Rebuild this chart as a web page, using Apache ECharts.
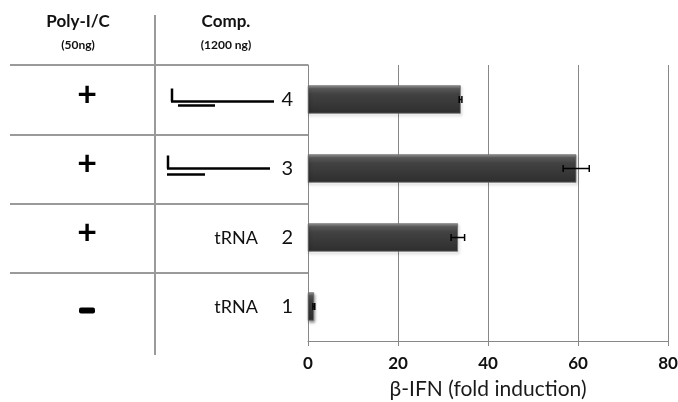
<!DOCTYPE html>
<html>
<head>
<meta charset="utf-8">
<title>beta-IFN</title>
<script src="https://cdn.jsdelivr.net/npm/echarts@6/dist/echarts.min.js"></script>
<style>
  html, body { margin: 0; padding: 0; background: #fff; }
  #main { width: 678px; height: 402px; }
</style>
</head>
<body>
<div id="main"></div>
<script>
// rows, bottom to top
var rows     = ['1', '2', '3', '4'];
var polyIC   = ['-', '+', '+', '+'];
var comp     = ['tRNA', 'tRNA', '', ''];
var foldInd  = [1.3, 33.3, 59.6, 33.9];
var foldErr  = [0.2, 1.5, 2.9, 0.3];
var xTicks   = [0, 20, 40, 60, 80];

var FONT = 'Lato, "Open Sans", sans-serif';
var myChart = echarts.init(document.getElementById('main'));

var barColor = new echarts.graphic.LinearGradient(0, 0, 0, 1, [
    { offset: 0, color: '#a0a0a0' },
    { offset: 0.12, color: '#5a5a5a' },
    { offset: 0.3, color: '#424242' },
    { offset: 1, color: '#2e2e2e' }
]);

var option = {
    animation: false,
    grid: { left: 308, right: 10, top: 65, bottom: 61, containLabel: false, outerBoundsMode: 'none' },
    xAxis: {
        type: 'value',
        min: xTicks[0],
        max: xTicks[xTicks.length - 1],
        interval: 20,
        axisLine: { show: true, lineStyle: { color: '#888', width: 1 } },
        axisTick: { show: true, length: 5, lineStyle: { color: '#888' } },
        splitLine: { show: true, lineStyle: { color: '#888', width: 1 } },
        axisLabel: { fontFamily: FONT, fontWeight: 'bold', fontSize: 17, color: '#111', margin: 14 },
        name: 'β-IFN (fold induction)',
        nameLocation: 'middle',
        nameGap: 38,
        nameTextStyle: { fontFamily: FONT, fontSize: 21, color: '#1a1a1a' }
    },
    yAxis: {
        type: 'category',
        data: rows,
        axisLine: { show: true, lineStyle: { color: '#888', width: 1 } },
        axisTick: { show: false },
        axisLabel: { fontFamily: FONT, fontSize: 20, color: '#111', margin: 15 }
    },
    series: [
        {
            type: 'bar',
            data: foldInd,
            barWidth: 28,
            itemStyle: {
                color: barColor,
                borderColor: '#6a6a6a',
                borderWidth: 0.5,
                shadowBlur: 3,
                shadowColor: 'rgba(0,0,0,0.45)',
                shadowOffsetY: 2,
                shadowOffsetX: 1
            }
        },
        {
            type: 'custom',
            data: foldInd.map(function (v, i) { return [i, v - foldErr[i], v + foldErr[i]]; }),
            renderItem: function (params, api) {
                var i = api.value(0);
                var lo = api.coord([api.value(1), i]);
                var hi = api.coord([api.value(2), i]);
                var h = 3.5;
                var st = { stroke: '#000', lineWidth: 1.5 };
                return {
                    type: 'group',
                    children: [
                        { type: 'line', shape: { x1: lo[0], y1: lo[1], x2: hi[0], y2: hi[1] }, style: st },
                        { type: 'line', shape: { x1: lo[0], y1: lo[1] - h, x2: lo[0], y2: lo[1] + h }, style: st },
                        { type: 'line', shape: { x1: hi[0], y1: hi[1] - h, x2: hi[0], y2: hi[1] + h }, style: st }
                    ]
                };
            },
            z: 5
        }
    ]
};
myChart.setOption(option);

// table on the left, placed on the category rows
var rowY = rows.map(function (r, i) { return myChart.convertToPixel({ yAxisIndex: 0 }, i); });
var band = rowY[0] - rowY[1];
var gray = { stroke: '#9a9a9a', lineWidth: 2 };
var g = [];

g.push({ type: 'text', x: 78, y: 22, style: { text: 'Poly-I/C', font: 'bold 17px ' + FONT, fill: '#111', align: 'center', verticalAlign: 'middle' } });
g.push({ type: 'text', x: 78, y: 45, style: { text: '(50ng)', font: 'bold 12px ' + FONT, fill: '#111', align: 'center', verticalAlign: 'middle' } });
g.push({ type: 'text', x: 226, y: 22, style: { text: 'Comp.', font: 'bold 17px ' + FONT, fill: '#111', align: 'center', verticalAlign: 'middle' } });
g.push({ type: 'text', x: 226, y: 45, style: { text: '(1200 ng)', font: 'bold 12px ' + FONT, fill: '#111', align: 'center', verticalAlign: 'middle' } });

g.push({ type: 'line', shape: { x1: 155, y1: 15, x2: 155, y2: 355 }, style: gray });
g.push({ type: 'line', shape: { x1: 10, y1: 65, x2: 308, y2: 65 }, style: gray });
for (var i = 0; i < rows.length - 1; i++) {
    var yb = Math.round(rowY[i] - band / 2) + 1;
    g.push({ type: 'line', shape: { x1: 10, y1: yb, x2: 308, y2: yb }, style: gray });
}

rows.forEach(function (r, i) {
    var y = rowY[i];
    if (polyIC[i] === '+') {
        g.push({ type: 'text', x: 87, y: y - 4, style: { text: '+', font: 'bold 34px ' + FONT, fill: '#000', align: 'center', verticalAlign: 'middle' } });
    } else {
        g.push({ type: 'rect', shape: { x: 79, y: y + 1, width: 16, height: 6, r: 2 }, style: { fill: '#000' } });
    }
    if (comp[i]) {
        g.push({ type: 'text', x: 258, y: y + 1, style: { text: comp[i], font: '18px ' + FONT, fill: '#111', align: 'right', verticalAlign: 'middle' } });
    }
});

// oligo diagrams for rows 3 and 4
var blk = { stroke: '#000', lineWidth: 2.5 };
var y4 = rowY[3], y3 = rowY[2];
g.push({ type: 'line', shape: { x1: 172, y1: y4 - 11, x2: 172, y2: y4 + 2 }, style: blk });
g.push({ type: 'line', shape: { x1: 171, y1: y4 + 2, x2: 274, y2: y4 + 2 }, style: blk });
g.push({ type: 'line', shape: { x1: 178, y1: y4 + 6, x2: 215, y2: y4 + 6 }, style: blk });
g.push({ type: 'line', shape: { x1: 168, y1: y3 - 13, x2: 168, y2: y3 }, style: blk });
g.push({ type: 'line', shape: { x1: 167, y1: y3, x2: 270, y2: y3 }, style: blk });
g.push({ type: 'line', shape: { x1: 167, y1: y3 + 6, x2: 205, y2: y3 + 6 }, style: blk });

myChart.setOption({ graphic: { elements: g } });
</script>
</body>
</html>
